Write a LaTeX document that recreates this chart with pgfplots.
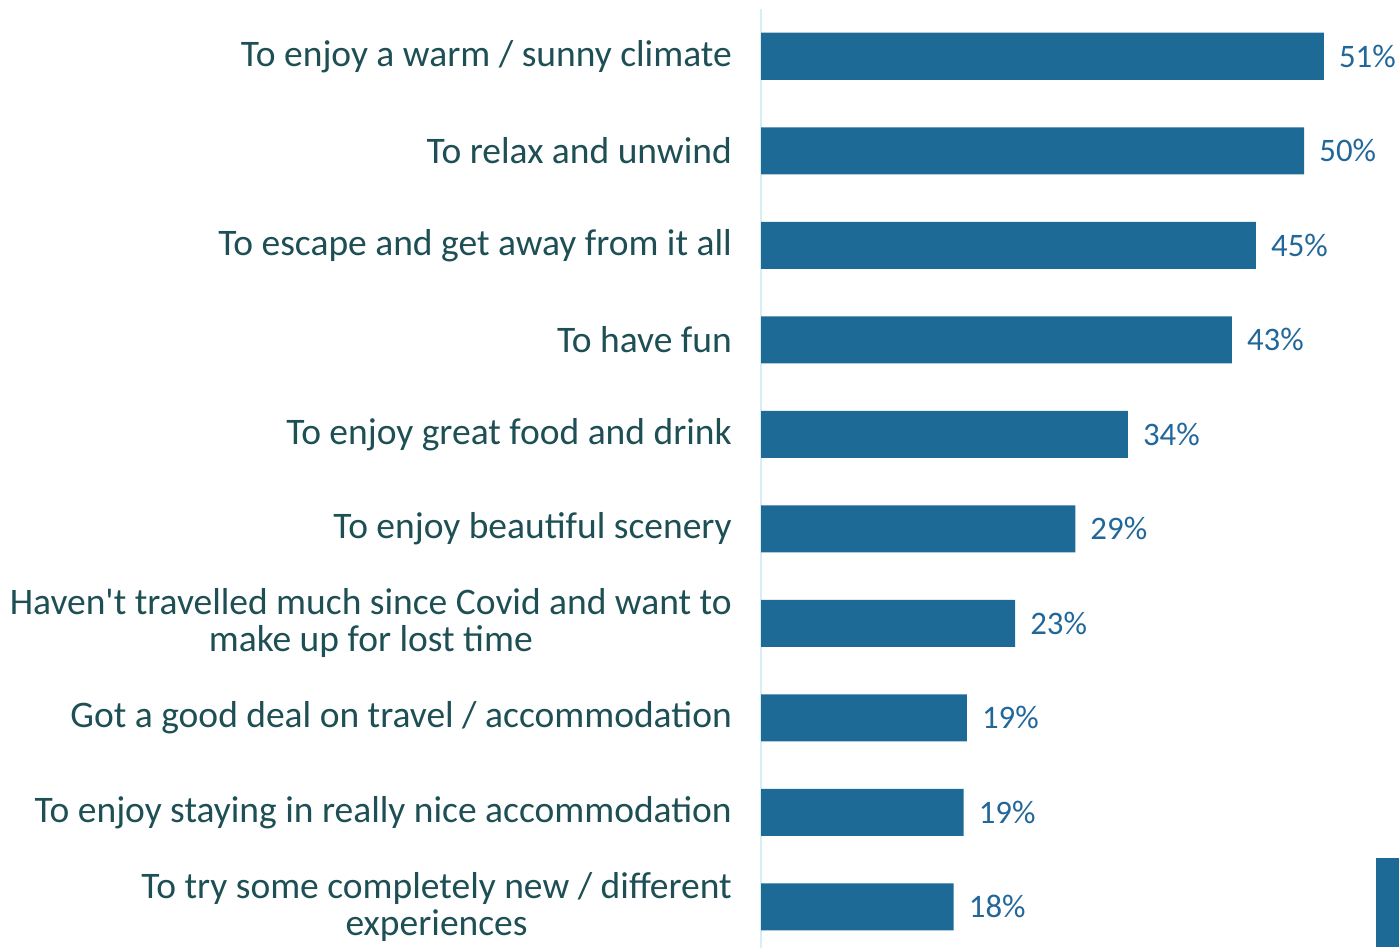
\documentclass[border=0pt]{standalone}
\usepackage{pgfplots}
\pgfplotsset{compat=1.18}
\usepackage{fontspec}
\setmainfont{Carlito}
\definecolor{barc}{HTML}{1C6A95}
\definecolor{labc}{HTML}{1D4F54}
\definecolor{valc}{HTML}{22679A}
\definecolor{axc}{HTML}{D6EFF6}
\begin{document}
\begin{tikzpicture}
\path[use as bounding box] (0pt,0pt) rectangle (1399pt,947pt);
\begin{axis}[
  at={(761pt,938pt)}, anchor=north west,
  scale only axis, width=638pt, height=945pt,
  xmin=0, xmax=58.26, ymin=-0.5, ymax=9.5, y dir=reverse,
  xbar, bar width=47pt,
  axis x line=none, axis y line*=left,
  axis line style={axc, line width=2.5pt},
  ytick={0,...,9}, major tick length=0pt,
  yticklabels={
    {To enjoy a warm / sunny climate},
    {To relax and unwind},
    {To escape and get away from it all},
    {To have fun},
    {To enjoy great food and drink},
    {To enjoy beautiful scenery},
    {Haven\textquotesingle t travelled much since Covid and want to\\make up for lost time},
    {Got a good deal on travel / accommodation},
    {To enjoy staying in really nice accommodation},
    {To try some completely new / different\\experiences}},
  yticklabel style={font=\fontsize{37.5}{37}\selectfont, text=labc, align=center, anchor=east, inner sep=0pt, xshift=-29pt},
  point meta=explicit symbolic,
  nodes near coords={\pgfplotspointmeta\%},
  nodes near coords style={font=\fontsize{32.8}{34}\selectfont, text=valc, anchor=west, inner sep=0pt, xshift=15pt},
  clip=false,
]
\addplot[fill=barc, draw=none] coordinates {
  (51.4,0) [51]
  (49.6,1) [50]
  (45.2,2) [45]
  (43.0,3) [43]
  (33.5,4) [34]
  (28.7,5) [29]
  (23.2,6) [23]
  (18.8,7) [19]
  (18.5,8) [19]
  (17.6,9) [18]
};
\end{axis}
\fill[barc] (1376pt,0pt) rectangle (1399pt,89pt);
\end{tikzpicture}
\end{document}
